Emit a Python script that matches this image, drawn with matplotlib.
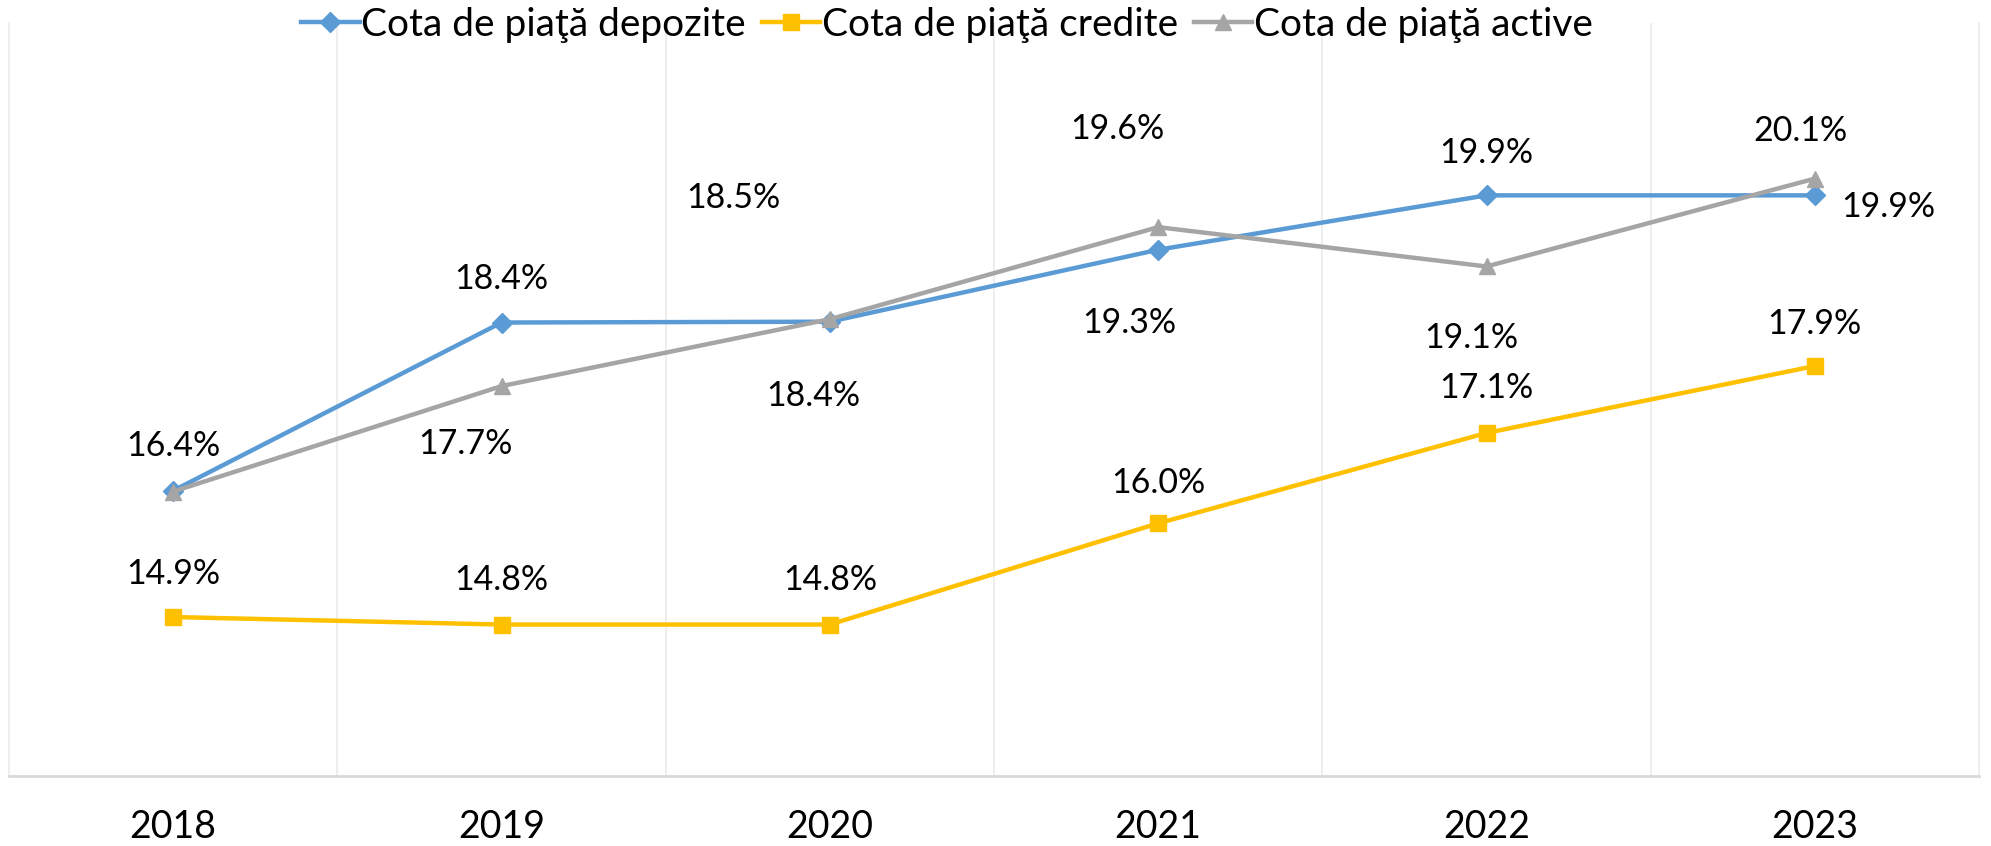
import matplotlib
matplotlib.use("Agg")
import matplotlib.pyplot as plt
import numpy as np

plt.rcParams['font.family'] = ['Lato', 'DejaVu Sans']

years = ["2018", "2019", "2020", "2021", "2022", "2023"]
depozite = [16.41, 18.42, 18.43, 19.29, 19.94, 19.94]
credite = [14.90, 14.81, 14.81, 16.02, 17.10, 17.90]
active = [16.40, 17.66, 18.46, 19.56, 19.09, 20.14]

series_names = ["Cota de piaţă depozite", "Cota de piaţă credite", "Cota de piaţă active"]

# label offsets in pixels (dx, dy) relative to the data point (positional style only)
off_dep = [(0, 45), (0, 44), (-17, -74), (-29, -73), (0, 42), (73, -12)]
off_cre = [(0, 43), (0, 45), (0, 45), (0, 40), (0, 45), (0, 42)]
off_act = [(None), (-36, -58), (-96, 121), (-41, 98), (-15, -72), (-14, 48)]

W, H = 1991, 846
fig = plt.figure(figsize=(W / 100, H / 100), dpi=100)
ax = fig.add_axes([9 / W, (H - 776) / H, 1970 / W, 753 / H])

x = np.arange(len(years))
specs = [
    (depozite, "#5B9BD5", "D", 10, off_dep),
    (credite, "#FFC000", "s", 11, off_cre),
    (active, "#A5A5A5", "^", 12, off_act),
]
handles = []
for (vals, col, mk, ms, offs), name in zip(specs, series_names):
    h, = ax.plot(x, vals, color=col, lw=3.2, marker=mk, markersize=ms,
                 markeredgecolor=col, label=name, zorder=3)
    handles.append(h)
    for xi, v, o in zip(x, vals, offs):
        if o is None:
            continue
        ax.annotate(f"{v:.1f}%", (xi, v), xytext=o, textcoords="offset pixels",
                    ha="center", va="center", fontsize=24.5, color="#000000")

ax.set_xlim(-0.5, len(years) - 0.5)
ax.set_ylim(13, 22)
ax.set_xticks(x)
ax.set_xticklabels(years, fontsize=27)
ax.tick_params(axis="x", length=0, pad=24)
ax.set_yticks([])
ax.set_xticks(np.arange(0.5, len(years) - 0.5, 1), minor=True)
ax.tick_params(axis="x", which="minor", length=0)
ax.grid(True, which="minor", axis="x", color="#EBEBEB", lw=1.2)
for s in ["left", "right"]:
    ax.spines[s].set_color("#EBEBEB")
    ax.spines[s].set_linewidth(1.2)
ax.spines["top"].set_visible(False)
ax.spines["bottom"].set_color("#D9D9D9")
ax.spines["bottom"].set_linewidth(2)

fig.legend(handles=handles, loc="center", bbox_to_anchor=(947 / W, 1 - 25 / H),
           ncol=3, frameon=False, fontsize=28, handlelength=1.5,
           handletextpad=0.05, columnspacing=0.4, borderaxespad=0)

fig.savefig("out.png", dpi=100)
